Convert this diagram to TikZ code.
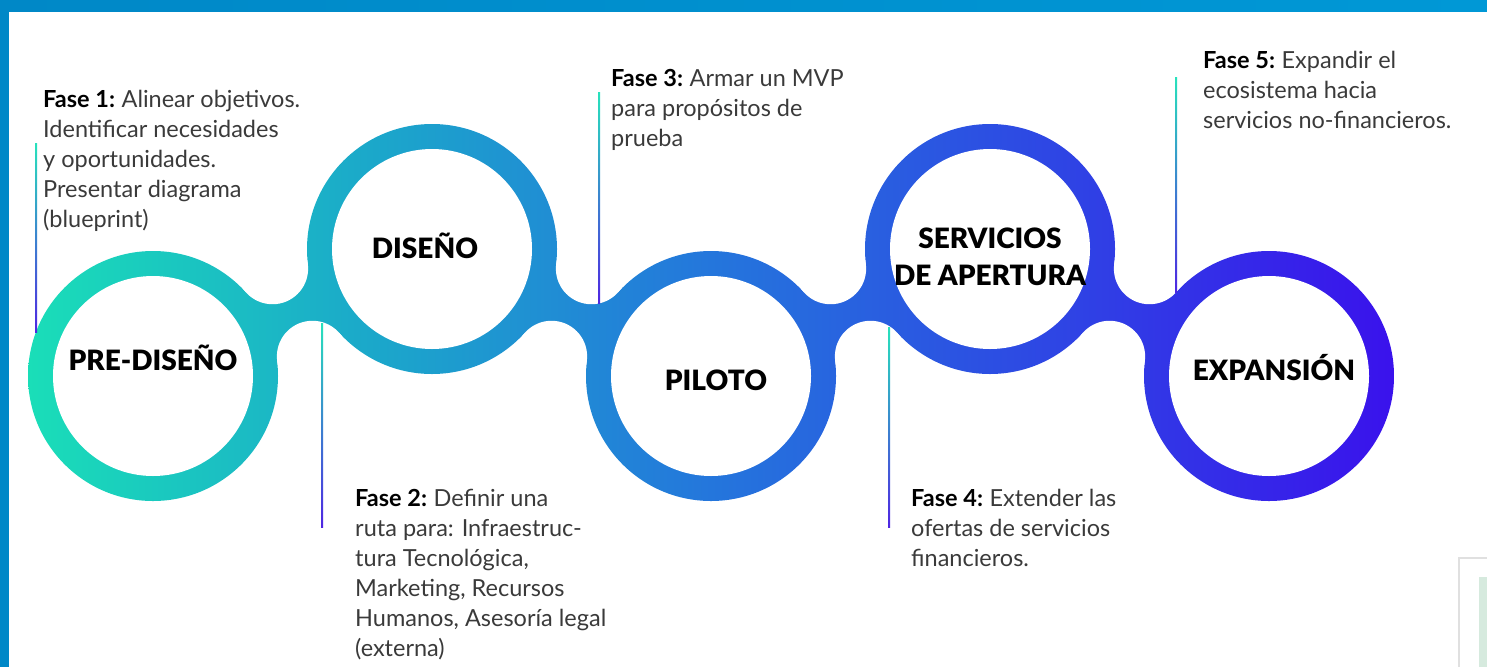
\documentclass[tikz,border=0pt]{standalone}
\usepackage{fontspec}
\setmainfont{Lato}
\newfontfamily\stagefont{Lato Black}
\usepackage{xcolor}
\usetikzlibrary{calc}

\definecolor{frameblue}{RGB}{0,136,199}
\definecolor{frameblue2}{RGB}{0,152,214}
\definecolor{ringA}{RGB}{26,222,184}
\definecolor{ringB}{RGB}{27,168,202}
\definecolor{ringC}{RGB}{36,118,220}
\definecolor{ringD}{RGB}{46,70,228}
\definecolor{ringE}{RGB}{58,18,236}
\definecolor{leadtop}{RGB}{40,226,188}
\definecolor{leadbot}{RGB}{78,38,226}
\definecolor{bodygray}{RGB}{58,58,58}
\definecolor{thumbgreen}{RGB}{214,234,222}

% TikZ maps the middle 50bp of a shading onto the path
\pgfdeclarehorizontalshading{ringshade}{100bp}{color(0bp)=(ringA); color(25bp)=(ringA); color(37.5bp)=(ringB); color(50bp)=(ringC); color(62.5bp)=(ringD); color(75bp)=(ringE); color(100bp)=(ringE)}

\newcommand{\fasetag}[1]{\textbf{\textcolor{black}{Fase #1:}}\hspace{-1.5pt}}

\begin{document}
\begin{tikzpicture}[x=1pt, y=-1pt]

% Styles
\tikzstyle{phase} = [anchor=base west, inner sep=0pt, align=left, text=bodygray, font=\fontsize{23.5}{30}\selectfont]
\tikzstyle{stage} = [anchor=base, inner sep=0pt, align=center, text=black, font=\fontsize{28}{37}\selectfont\stagefont]
\tikzstyle{leader} = [top color=leadtop, bottom color=leadbot]

\useasboundingbox (0,0) rectangle (1487,667);

% Frame
\shade[left color=frameblue, right color=frameblue2] (0,0) rectangle (1487,11);
\fill[frameblue] (0,0) rectangle (9,667);

% Ring centres
\coordinate (c1) at (153,376);
\coordinate (c2) at (432,249);
\coordinate (c3) at (711,376);
\coordinate (c4) at (990,249);
\coordinate (c5) at (1269,376);

% Fillet centres either side of each neck
\foreach \a/\b in {1/2,2/3,3/4,4/5}{
  \coordinate (m\a) at ($(c\a)!0.5!(c\b)$);
  \coordinate (fu\a) at ($(m\a)!48.2pt!90:(c\b)$);
  \coordinate (fd\a) at ($(m\a)!48.2pt!-90:(c\b)$);
}

% Chain of rings
\begin{scope}
  \clip \foreach \i in {1,...,5}{(c\i) circle[radius=125]}
        \foreach \a/\b in {1/2,2/3,3/4,4/5}{(c\a) -- (fu\a) -- (c\b) -- (fd\a) -- cycle};
  \shade[shading=ringshade] (28,120) rectangle (1394,505);
\end{scope}
\foreach \a in {1,...,4}
  \fill[white] (fu\a) circle[radius=35.6] (fd\a) circle[radius=35.6];
\foreach \i in {1,...,5}
  \fill[white] (c\i) circle[radius=100];

% Leader lines
\coordinate (lt1) at (36,143);   \coordinate (lb1) at (36,332);
\coordinate (lt2) at (322,323);  \coordinate (lb2) at (322,527);
\coordinate (lt3) at (599,92);   \coordinate (lb3) at (599,303);
\coordinate (lt4) at (889,327);  \coordinate (lb4) at (889,527);
\coordinate (lt5) at (1176,77);  \coordinate (lb5) at (1176,292);
\foreach \i in {1,...,5}
  \shade[leader] ($(lt\i)+(-1,0)$) rectangle ($(lb\i)+(1,0)$);

% Stage labels (base = last line)
\node[stage] (pre) at (153,370) {PRE-DISEÑO};
\node[stage] (diseno) at (425,258) {DISEÑO};
\node[stage] (piloto) at (716,390) {PILOTO};
\node[stage] (servicios) at (990,285) {SERVICIOS\\DE APERTURA};
\node[stage] (expansion) at (1274,380) {EXPANSIÓN};

% Phase texts (base = last line)
\node[phase] (fase1) at (43,227) {\fasetag{1} Alinear objetivos.\\Identificar necesidades\\y oportunidades.\\Presentar diagrama\\(blueprint)};
\node[phase] (fase2) at (355,656) {\fasetag{2} Definir una\\ruta para: Infraestruc-\\tura Tecnológica,\\Marketing, Recursos\\Humanos, Asesoría legal\\(externa)};
\node[phase] (fase3) at (611,146) {\fasetag{3} Armar un MVP\\para propósitos de\\prueba};
\node[phase] (fase4) at (911,566) {\fasetag{4} Extender las\\ofertas de servicios\\financieros.};
\node[phase] (fase5) at (1203,128) {\fasetag{5} Expandir el\\ecosistema hacia\\servicios no-financieros.};

% Thumbnail at corner
\fill[black!12] (1458,557) rectangle (1487,667);
\fill[white] (1460,559) rectangle (1487,667);
\fill[thumbgreen] (1479,577) rectangle (1487,667);

\end{tikzpicture}
\end{document}
